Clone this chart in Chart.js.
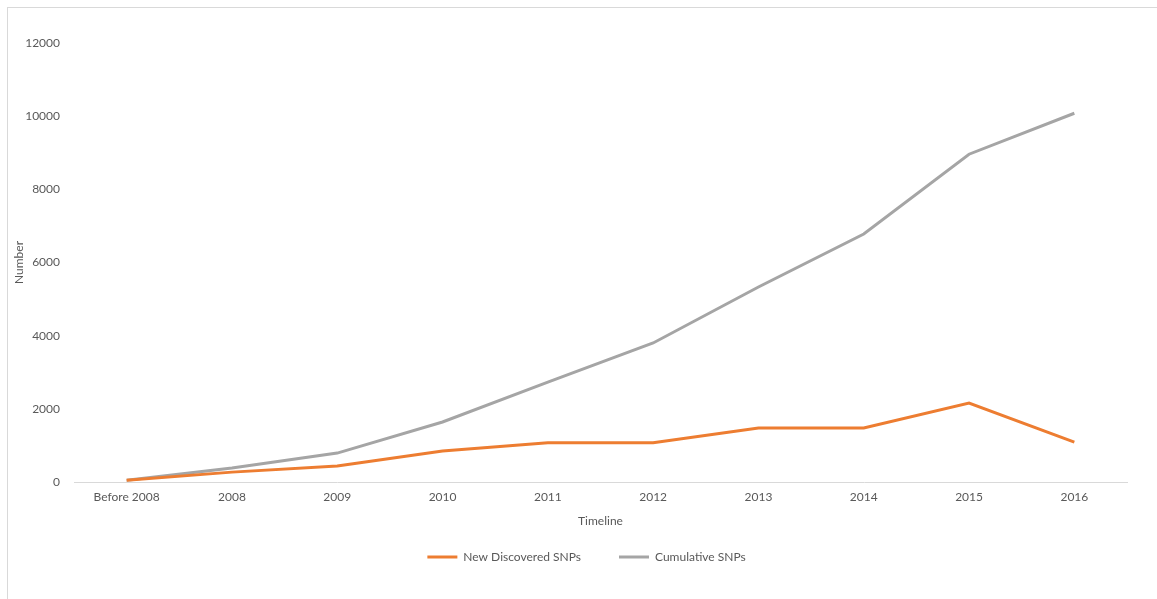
<!DOCTYPE html>
<html>
<head>
<meta charset="utf-8">
<script src="https://cdn.jsdelivr.net/npm/chart.js@4"></script>
<style>
    html, body { margin: 0; padding: 0; background: #fff; }
    .frame {
        position: absolute; left: 7px; top: 7px; width: 1150px; height: 592px;
        border-left: 1px solid #d9d9d9; border-top: 1px solid #d9d9d9;
    }
    .chart-wrap { position: absolute; left: 0; top: 0; width: 1157px; height: 599px; }
</style>
</head>
<body>
<div class="frame"></div>
<div class="chart-wrap"><canvas id="chart-snps" width="1157" height="599"></canvas></div>
<script>
// Timeline categories and series
const timeline = ['Before 2008', '2008', '2009', '2010', '2011', '2012', '2013', '2014', '2015', '2016'];
const newSnps = [50, 270, 440, 850, 1070, 1070, 1475, 1475, 2160, 1090];
const cumulativeSnps = [50, 380, 790, 1640, 2730, 3800, 5330, 6780, 8960, 10080];
const yTicks = [0, 2000, 4000, 6000, 8000, 10000, 12000];

const textColor = '#595959';
const font = { family: 'Lato, "Open Sans", sans-serif', size: 12 };

// nudge the legend row a little right, like the original
const legendShift = {
    id: 'legendShift',
    afterLayout(chart) {
        chart.legend.left += 19;
        chart.legend.right += 19;
    }
};

new Chart(document.getElementById('chart-snps'), {
    type: 'line',
    data: {
        labels: timeline,
        datasets: [
            {
                label: 'New Discovered SNPs',
                data: newSnps,
                borderColor: '#ed7d31',
                backgroundColor: '#ed7d31',
                borderWidth: 3,
                pointRadius: 0,
                tension: 0
            },
            {
                label: 'Cumulative SNPs',
                data: cumulativeSnps,
                borderColor: '#a5a5a5',
                backgroundColor: '#a5a5a5',
                borderWidth: 3,
                pointRadius: 0,
                tension: 0
            }
        ]
    },
    options: {
        responsive: false,
        animation: false,
        layout: { padding: { left: 8, right: 30, top: 43, bottom: 26 } },
        plugins: {
            legend: {
                position: 'bottom',
                labels: {
                    boxWidth: 30, boxHeight: 3, padding: 14,
                    color: textColor, font: font,
                    generateLabels(chart) {
                        const items = Chart.defaults.plugins.legend.labels.generateLabels(chart);
                        items.forEach(it => { it.lineWidth = 0; });
                        items[0].text += '\u2002\u2002\u2002\u2002';
                        return items;
                    }
                }
            },
            tooltip: { enabled: false }
        },
        scales: {
            x: {
                offset: true,
                grid: { display: false, drawTicks: false },
                border: { display: true, color: '#d9d9d9', width: 1 },
                ticks: { color: textColor, font: font, padding: 8, maxRotation: 0 },
                title: { display: true, text: 'Timeline', color: textColor, font: font, padding: { top: 4, bottom: 9 } },
                afterFit: axis => { axis.height = 55; }
            },
            y: {
                min: 0, max: 12000,
                grid: { display: false, drawTicks: false },
                border: { display: false },
                afterBuildTicks: axis => { axis.ticks = yTicks.map(v => ({ value: v })); },
                ticks: { color: textColor, font: font, padding: 14, callback: v => String(v) },
                title: { display: true, text: 'Number', color: textColor, font: font, padding: { top: 4, bottom: 4 } },
                afterFit: axis => { axis.width = 66; }
            }
        }
    },
    plugins: [legendShift]
});
</script>
</body>
</html>
